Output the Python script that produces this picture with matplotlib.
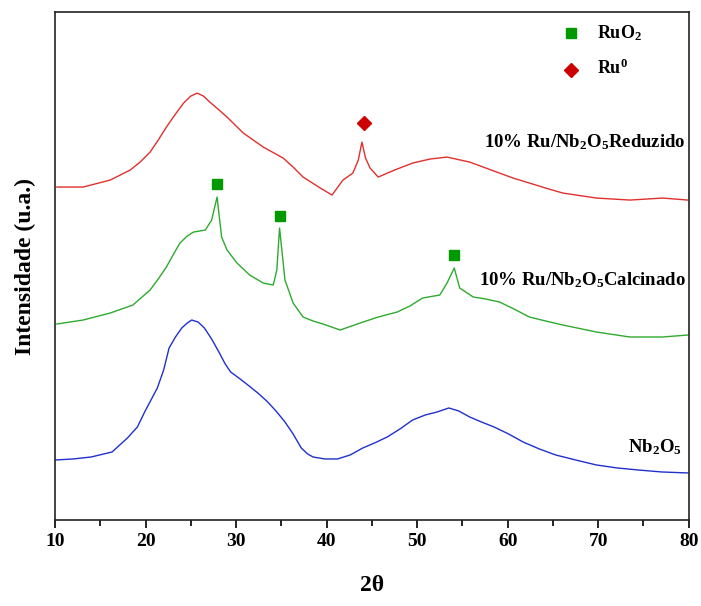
import numpy as np
import matplotlib
matplotlib.use('Agg')
from matplotlib import pyplot as plt
from matplotlib.ticker import MultipleLocator

#%% data (intensity in arbitrary units)
two_theta_nb = [10.1, 12, 14, 16.3, 18, 19.1, 19.9, 20.6, 21.3, 22, 22.6, 23.3, 24, 24.6, 25.1,
                25.8, 26.5, 27.3, 28.1, 28.8, 29.4, 30.3, 31.3, 32.4, 33.5, 34.5, 35.4, 36.3,
                37.2, 37.9, 38.5, 39.8, 41.2, 42.6, 44, 45.3, 46.7, 48.1, 49.5, 50.9, 52.2,
                53.5, 54.6, 55.8, 57.1, 58.5, 60.1, 61.7, 63.5, 65.3, 67.5, 69.8, 72.1, 74.4,
                77, 79.9]
int_nb = [60, 61, 63, 68, 82, 93, 108, 120, 132, 150, 172, 183, 192, 197, 200,
          198, 192, 181, 168, 156, 148, 142, 135, 127, 118, 108, 98, 86,
          72, 66, 63, 61, 61, 65, 72, 77, 83, 91, 100, 105, 108,
          112, 109, 103, 98, 93, 86, 78, 71, 65, 60, 55, 52, 50,
          48, 47]

two_theta_calc = [10.2, 13.1, 16.1, 18.6, 20.5, 21.4, 22.3, 23.1, 23.8, 24.6, 25.3, 26.6, 27.3,
                  27.9, 28.4, 29, 30.1, 31.5, 33, 34.1, 34.5, 34.8, 35.4, 36.3, 37.4, 38.5,
                  39.6, 41.5, 43.7, 45.7, 47.8, 49.2, 50.6, 52.5, 53.3, 54.1, 54.7, 56.2,
                  57.6, 59.1, 60.7, 62.4, 64.2, 66.1, 69.8, 73.5, 77.1, 79.9]
int_calc = [196, 200, 207, 215, 230, 241, 253, 266, 277, 284, 288, 290, 300,
            323, 283, 270, 257, 245, 237, 235, 250, 292, 240, 217, 203, 199,
            196, 190, 197, 203, 208, 214, 222, 225, 237, 252, 232, 223,
            221, 218, 211, 203, 199, 195, 188, 183, 183, 185]

two_theta_red = [10.2, 13.1, 16.1, 18.3, 19.4, 20.5, 21.4, 22.3, 23.3, 24.2, 25, 25.7, 26.4,
                 27.1, 28, 29, 30.8, 33, 35.2, 36.3, 37.4, 39.3, 40.6, 41.8, 42.9, 43.5,
                 43.9, 44.3, 44.8, 45.7, 47.5, 49.5, 51.4, 53.3, 55.8, 58.8, 60.6, 62.4,
                 64.2, 66.1, 69.8, 73.5, 77.1, 79.9]
int_red = [333, 333, 340, 350, 358, 368, 380, 393, 406, 417, 424, 427, 424,
           418, 411, 403, 387, 373, 362, 353, 343, 332, 325, 340, 347, 360,
           378, 362, 352, 343, 350, 357, 361, 363, 358, 348, 342, 337,
           332, 327, 322, 320, 322, 320]

ruo2_pos = [27.9, 34.8, 54.1]
ruo2_int = [336, 304, 265]
ru0_pos = [44.1]
ru0_int = [397]

tick_vals = [10, 20, 30, 40, 50, 60, 70, 80]

#%% plot
plt.rcParams['font.family'] = ['Liberation Serif', 'DejaVu Serif']
plt.rcParams['font.weight'] = 'bold'
plt.rcParams['mathtext.fontset'] = 'custom'
plt.rcParams['mathtext.rm'] = 'Liberation Serif:bold'
plt.rcParams['mathtext.bf'] = 'Liberation Serif:bold'
plt.rcParams['mathtext.it'] = 'Liberation Serif:bold'
plt.rcParams['mathtext.default'] = 'bf'

fig = plt.figure(figsize=(7.01, 6.06), dpi=100)
axes = fig.add_axes([0.0785, 0.142, 0.904, 0.838])

axes.plot(two_theta_red, int_red, '-', color='#e0302e', linewidth=1)
axes.plot(two_theta_calc, int_calc, '-', color='#2eaa2e', linewidth=1)
axes.plot(two_theta_nb, int_nb, '-', color='#2030cc', linewidth=1)

axes.plot(ruo2_pos, ruo2_int, 's', color='#009900', markersize=7)
axes.plot(ru0_pos, ru0_int, 'D', color='#cc0000', markersize=7)

# legend drawn by hand like the original
axes.plot([67.0], [487], 's', color='#009900', markersize=7)
axes.plot([67.0], [450], 'D', color='#cc0000', markersize=7)
axes.text(69.9, 487, r'RuO$_{2}$', fontsize=13, fontweight='bold', va='center')
axes.text(69.9, 452, r'Ru$^{0}$', fontsize=13, fontweight='bold', va='center')

axes.text(79.7, 378, r'10% Ru/Nb$_{2}$O$_{5}$Reduzido', fontsize=13.5,
          fontweight='bold', ha='right', va='center')
axes.text(79.7, 240, r'10% Ru/Nb$_{2}$O$_{5}$Calcinado', fontsize=13.5,
          fontweight='bold', ha='right', va='center')
axes.text(79.3, 73, r'Nb$_{2}$O$_{5}$', fontsize=13.5,
          fontweight='bold', ha='right', va='center')

axes.set_xlim(10, 80)
axes.set_ylim(0, 508)
axes.set_xticks(tick_vals)
axes.xaxis.set_minor_locator(MultipleLocator(5))
axes.set_yticks([])
axes.tick_params(axis='x', which='major', direction='out', length=6, width=1.2, labelsize=14)
axes.tick_params(axis='x', which='minor', direction='out', length=4, width=1.2)
for lab in axes.get_xticklabels():
    lab.set_fontweight('bold')
for sp in axes.spines.values():
    sp.set_linewidth(1.2)
    sp.set_color('#222222')

axes.set_xlabel('2θ', fontsize=17, fontweight='bold', labelpad=18)
axes.set_ylabel('Intensidade (u.a.)', fontsize=17, fontweight='bold', labelpad=14)

plt.savefig('out.png', dpi=100)
